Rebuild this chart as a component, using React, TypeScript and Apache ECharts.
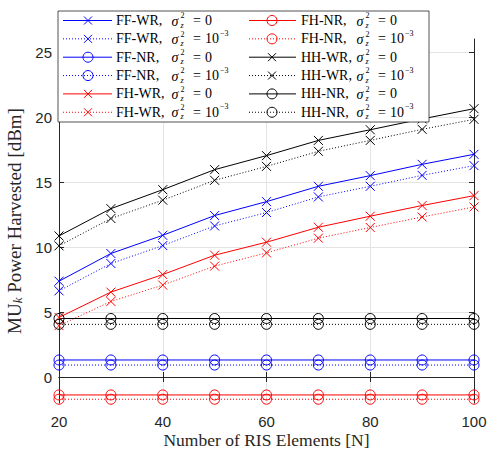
import { useEffect, useRef } from 'react';
import * as echarts from 'echarts';

// Number of RIS elements N
const elements = [20, 30, 40, 50, 60, 70, 80, 90, 100];
const xTicks = [20, 40, 60, 80, 100];
const yTicks = [0, 5, 10, 15, 20, 25];

// Harvested power [dBm] per scheme, ideal (σ² = 0) and noisy (σ² = 10⁻³)
const ffWrIdeal = [7.37, 9.5, 10.9, 12.42, 13.49, 14.67, 15.49, 16.36, 17.13];
const ffWrNoisy = [6.63, 8.73, 10.11, 11.62, 12.65, 13.85, 14.67, 15.51, 16.26];
const ffNrIdeal = [1.31, 1.31, 1.31, 1.31, 1.31, 1.31, 1.31, 1.31, 1.31];
const ffNrNoisy = [0.92, 0.92, 0.92, 0.92, 0.92, 0.92, 0.92, 0.92, 0.92];
const fhWrIdeal = [4.58, 6.53, 7.88, 9.37, 10.37, 11.52, 12.37, 13.19, 13.95];
const fhWrNoisy = [3.95, 5.81, 7.07, 8.53, 9.55, 10.68, 11.5, 12.31, 13.08];
const fhNrIdeal = [-1.38, -1.38, -1.38, -1.38, -1.38, -1.38, -1.38, -1.38, -1.38];
const fhNrNoisy = [-1.71, -1.71, -1.71, -1.71, -1.71, -1.71, -1.71, -1.71, -1.71];
const hhWrIdeal = [10.85, 12.95, 14.41, 15.95, 17.03, 18.2, 19.02, 19.85, 20.64];
const hhWrNoisy = [10.09, 12.19, 13.6, 15.13, 16.2, 17.36, 18.2, 19.05, 19.82];
const hhNrIdeal = [4.5, 4.5, 4.5, 4.5, 4.5, 4.5, 4.5, 4.5, 4.5];
const hhNrNoisy = [4.05, 4.05, 4.05, 4.05, 4.05, 4.05, 4.05, 4.05, 4.05];

const BLUE = '#0000ff';
const RED = '#ff0000';
const BLACK = '#000000';
const AXIS = '#262626';
const GRID = '#e4e4e4';
const SERIF = '"Liberation Serif", "DejaVu Serif", serif';
const SANS = '"Liberation Sans", Arial, sans-serif';

type Marker = 'cross' | 'ring';
type Curve = { scheme: string; noisy: boolean; values: number[]; color: string; marker: Marker };

const curves: Curve[] = [
  { scheme: 'FF-WR', noisy: false, values: ffWrIdeal, color: BLUE, marker: 'cross' },
  { scheme: 'FF-WR', noisy: true, values: ffWrNoisy, color: BLUE, marker: 'cross' },
  { scheme: 'FF-NR', noisy: false, values: ffNrIdeal, color: BLUE, marker: 'ring' },
  { scheme: 'FF-NR', noisy: true, values: ffNrNoisy, color: BLUE, marker: 'ring' },
  { scheme: 'FH-WR', noisy: false, values: fhWrIdeal, color: RED, marker: 'cross' },
  { scheme: 'FH-WR', noisy: true, values: fhWrNoisy, color: RED, marker: 'cross' },
  { scheme: 'FH-NR', noisy: false, values: fhNrIdeal, color: RED, marker: 'ring' },
  { scheme: 'FH-NR', noisy: true, values: fhNrNoisy, color: RED, marker: 'ring' },
  { scheme: 'HH-WR', noisy: false, values: hhWrIdeal, color: BLACK, marker: 'cross' },
  { scheme: 'HH-WR', noisy: true, values: hhWrNoisy, color: BLACK, marker: 'cross' },
  { scheme: 'HH-NR', noisy: false, values: hhNrIdeal, color: BLACK, marker: 'ring' },
  { scheme: 'HH-NR', noisy: true, values: hhNrNoisy, color: BLACK, marker: 'ring' },
];

const CROSS = 'path://M0,0L10,10M10,0L0,10';
const DOTS = [1, 2];

function txt(text: string, x: number, y: number, size: number, italic = false) {
  return {
    type: 'text',
    x,
    y,
    z: 101,
    style: {
      text,
      fill: '#000',
      fontSize: size,
      fontFamily: SERIF,
      fontStyle: italic ? 'italic' : 'normal',
      align: 'left',
      verticalAlign: 'middle',
      textAlign: 'left',
      textVerticalAlign: 'middle',
    },
  };
}

// Legend box: two columns of six entries, each with a line sample, a marker
// and a label "<scheme>, σ_z^2 = 0 | 10^-3" with stacked sub/superscripts.
function buildLegend() {
  const els: any[] = [];
  els.push({
    type: 'rect',
    z: 100,
    shape: { x: 58, y: 11, width: 371, height: 111 },
    style: { fill: '#ffffff', stroke: AXIS, lineWidth: 0.8 },
  });
  const cols = [
    { x1: 63, x2: 112, mx: 88, tx: 116 },
    { x1: 249, x2: 296, mx: 272, tx: 301 },
  ];
  const main = 14;
  const small = 8;
  curves.forEach((c, i) => {
    const col = cols[Math.floor(i / 6)];
    const y = 20.5 + (i % 6) * 18.35;
    els.push({
      type: 'line',
      z: 101,
      shape: { x1: col.x1, y1: y, x2: col.x2, y2: y },
      style: { stroke: c.color, lineWidth: 1, lineDash: c.noisy ? DOTS : null },
    });
    if (c.marker === 'ring') {
      els.push({
        type: 'circle',
        z: 102,
        shape: { cx: col.mx, cy: y, r: 5 },
        style: { fill: 'none', stroke: c.color, lineWidth: 1 },
      });
    } else {
      const h = 4;
      els.push({
        type: 'polyline', z: 102,
        shape: { points: [[col.mx - h, y - h], [col.mx + h, y + h]] },
        style: { stroke: c.color, lineWidth: 1, fill: 'none' },
      });
      els.push({
        type: 'polyline', z: 102,
        shape: { points: [[col.mx + h, y - h], [col.mx - h, y + h]] },
        style: { stroke: c.color, lineWidth: 1, fill: 'none' },
      });
    }
    const x = col.tx;
    els.push(txt(c.scheme + ',', x, y, main));
    els.push(txt('σ', x + 55.5, y + 0.5, main, true));
    els.push(txt('2', x + 64.5, y - 4.6, small));
    els.push(txt('z', x + 64.5, y + 4.6, small, true));
    els.push(txt('=', x + 77, y, main));
    els.push(txt(c.noisy ? '10' : '0', x + 89, y, main));
    if (c.noisy) els.push(txt('−3', x + 104, y - 5.5, small));
  });
  return els;
}

function buildOption(): any {
  const tickStyle = { show: true, inside: true, length: 5, lineStyle: { color: AXIS, width: 1 } };
  const lineStyle = { show: true, lineStyle: { color: AXIS, width: 1 } };
  return {
    animation: false,
    backgroundColor: '#ffffff',
    grid: { left: 59, right: 16, top: 39, bottom: 48, containLabel: false, outerBoundsMode: 'none' },
    xAxis: [
      {
        type: 'value',
        min: 20,
        max: 100,
        interval: 20,
        position: 'bottom',
        name: 'Number of RIS Elements [N]',
        nameLocation: 'middle',
        nameGap: 28,
        nameMoveOverlap: false,
        nameTextStyle: { fontFamily: SERIF, fontSize: 17.5, color: AXIS },
        axisLine: lineStyle,
        axisTick: { ...tickStyle, customValues: xTicks },
        axisLabel: { customValues: xTicks, color: AXIS, fontFamily: SANS, fontSize: 15, margin: 11 },
        splitLine: { show: true, lineStyle: { color: GRID, width: 1 } },
      },
      {
        type: 'value',
        min: 20,
        max: 100,
        interval: 20,
        position: 'top',
        axisLine: lineStyle,
        axisTick: { ...tickStyle, customValues: xTicks },
        axisLabel: { show: false },
        splitLine: { show: false },
      },
    ],
    yAxis: [
      {
        type: 'value',
        min: -2,
        max: 26,
        position: 'left',
        name: 'MU{k|k} Power Harvested [dBm]',
        nameLocation: 'middle',
        nameGap: 30,
        nameTextStyle: {
          fontFamily: SERIF,
          fontSize: 19,
          color: AXIS,
          rich: {
            k: { fontFamily: SERIF, fontSize: 13, fontStyle: 'italic', color: AXIS, verticalAlign: 'bottom' },
          },
        },
        axisLine: lineStyle,
        axisTick: { ...tickStyle, customValues: yTicks },
        axisLabel: { customValues: yTicks, color: AXIS, fontFamily: SANS, fontSize: 15, margin: 7 },
        splitLine: { show: true, lineStyle: { color: GRID, width: 1 } },
      },
      {
        type: 'value',
        min: -2,
        max: 26,
        position: 'right',
        axisLine: lineStyle,
        axisTick: { ...tickStyle, customValues: yTicks },
        axisLabel: { show: false },
        splitLine: { show: false },
      },
    ],
    series: curves.map((c) => ({
      type: 'line',
      name: `${c.scheme} ${c.noisy ? 'noisy' : 'ideal'}`,
      xAxisIndex: 0,
      yAxisIndex: 0,
      data: elements.map((n, i) => [n, c.values[i]]),
      symbol: c.marker === 'ring' ? 'circle' : CROSS,
      symbolSize: c.marker === 'ring' ? 10 : 9,
      showAllSymbol: true,
      lineStyle: { color: c.color, width: 1, type: c.noisy ? DOTS : 'solid' },
      itemStyle: { color: 'rgba(0,0,0,0)', borderColor: c.color, borderWidth: 1 },
      emphasis: { disabled: true },
      z: 3,
    })),
    graphic: { elements: buildLegend() },
  };
}

export default function App() {
  const ref = useRef<HTMLDivElement>(null);
  useEffect(() => {
    if (!ref.current) return;
    const chart = echarts.init(ref.current, undefined, { renderer: 'svg' });
    chart.setOption(buildOption());
    return () => chart.dispose();
  }, []);
  return (
    <div
      ref={ref}
      style={{ position: 'fixed', left: 0, top: 0, width: 490, height: 451, background: '#fff' }}
    />
  );
}
